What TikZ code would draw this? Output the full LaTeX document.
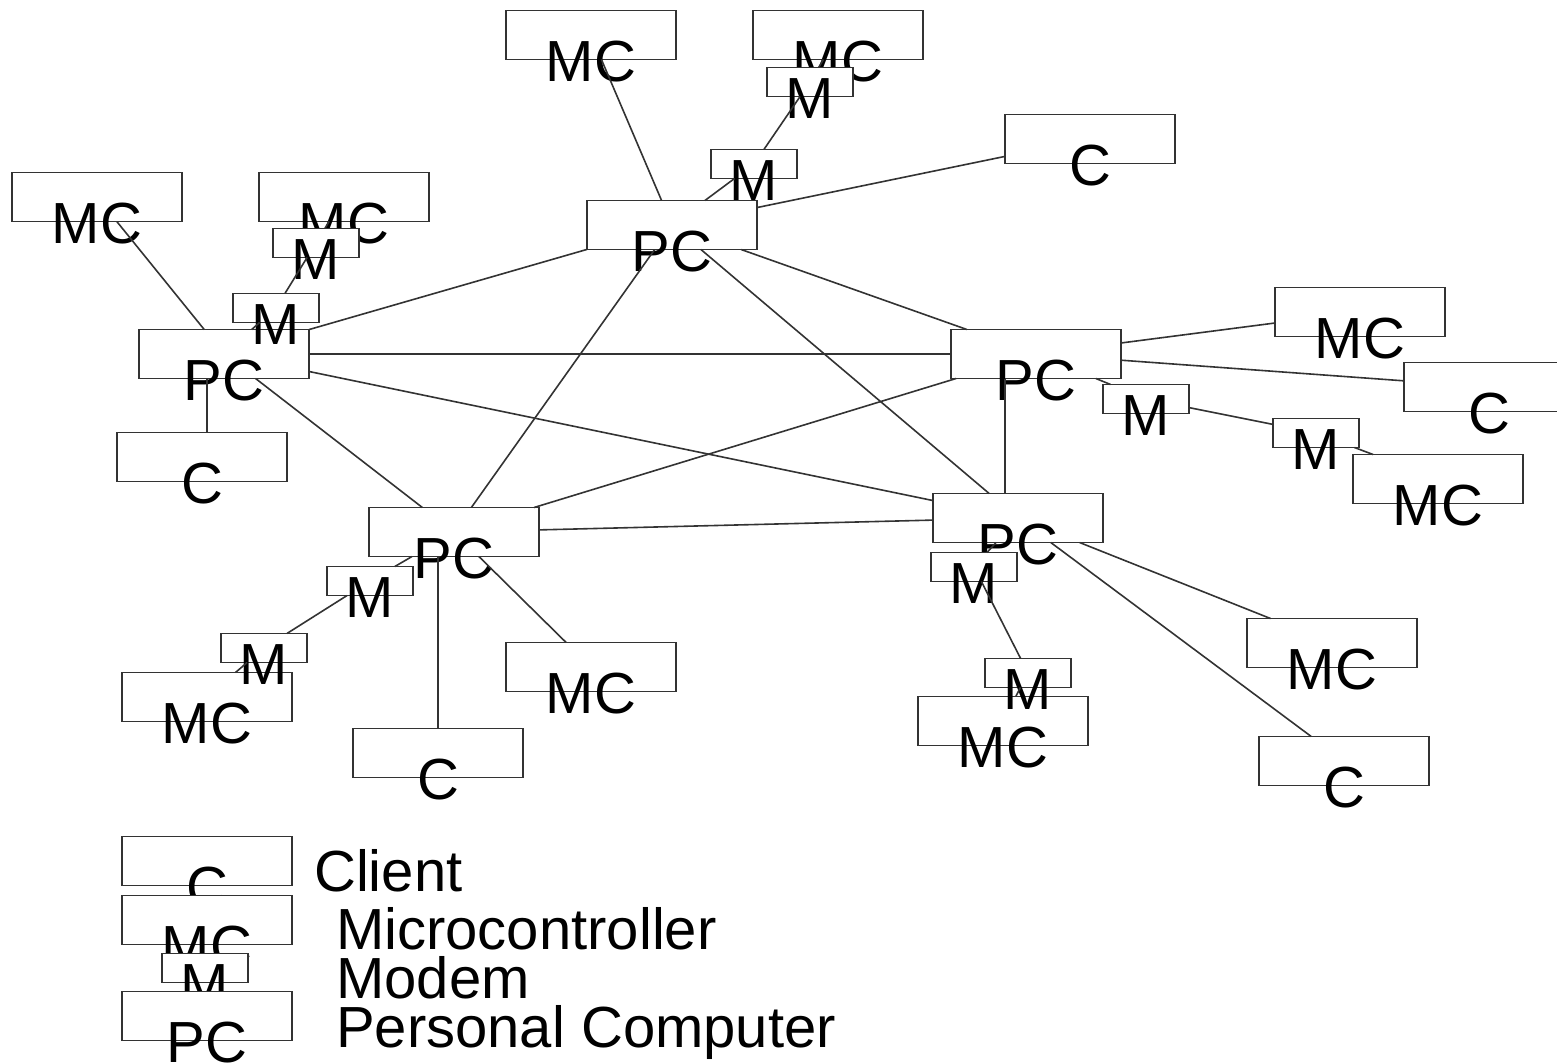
\documentclass[tikz,border=0pt]{standalone}
\usepackage{fontspec}
\setmainfont{Liberation Sans}
\usepackage{tikz}
\newcommand{\bigboxwidth}{170pt}
\newcommand{\bigboxheight}{49pt}
\newcommand{\modemwidth}{86pt}
\newcommand{\modemheight}{29pt}
\newcommand{\devfont}{\fontsize{58}{62}\selectfont}
\tikzstyle{device}=[draw=black!80, fill=white, line width=1.8pt, inner sep=0, outer sep=0]
\tikzstyle{bigdevice}=[device, minimum width=\bigboxwidth, minimum height=\bigboxheight]
\tikzstyle{modem}=[device, minimum width=\modemwidth, minimum height=\modemheight]
\tikzstyle{devlabel}=[anchor=center, inner sep=0, yshift=-2pt, font=\devfont]
\tikzstyle{legendtext}=[anchor=base west, inner sep=0, font=\devfont]
\tikzstyle{link}=[draw=black!80, line width=1.6pt]

\begin{document}
\begin{tikzpicture}[x=1pt, y=-1pt]
        \useasboundingbox (0,0) rectangle (1557,1063);
        % top
        \node[bigdevice, label={[devlabel]south:MC}] (MCa) at (591,35) {};
        \node[bigdevice, label={[devlabel]south:MC}] (MCb) at (838,35) {};
        \node[modem, label={[devlabel]south:M}] (Mb1) at (810,82) {};
        \node[bigdevice, label={[devlabel]south:PC}] (PCtop) at (672,225) {};
        \node[modem, label={[devlabel]south:M}] (Mb2) at (754,164) {};
        \node[bigdevice, label={[devlabel]south:C}] (Ca) at (1090,139) {};
        % left
        \node[bigdevice, label={[devlabel]south:MC}] (MCc) at (97,197) {};
        \node[bigdevice, label={[devlabel]south:MC}] (MCd) at (344,197) {};
        \node[modem, label={[devlabel]south:M}] (Md1) at (316,243) {};
        \node[bigdevice, label={[devlabel]south:PC}] (PCleft) at (224,354) {};
        \node[modem, label={[devlabel]south:M}] (Md2) at (276,308) {};
        \node[bigdevice, label={[devlabel]south:C}] (Cb) at (202,457) {};
        % right
        \node[bigdevice, label={[devlabel]south:PC}] (PCright) at (1036,354) {};
        \node[bigdevice, label={[devlabel]south:MC}] (MCe) at (1360,312) {};
        \node[bigdevice, label={[devlabel]south:C}] (Cc) at (1489,387) {};
        \node[modem, label={[devlabel]south:M}] (Me1) at (1146,399) {};
        \node[modem, label={[devlabel]south:M}] (Me2) at (1316,433) {};
        \node[bigdevice, label={[devlabel]south:MC}] (MCf) at (1438,479) {};
        % bottom right
        \node[bigdevice, label={[devlabel]south:PC}] (PCbr) at (1018,518) {};
        \node[modem, label={[devlabel]south:M}] (Mf1) at (974,567) {};
        \node[bigdevice, label={[devlabel]south:MC}] (MCg) at (1003,721) {};
        \node[modem, label={[devlabel]south:M}] (Mf2) at (1028,673) {};
        \node[bigdevice, label={[devlabel]south:MC}] (MCh) at (1332,643) {};
        \node[bigdevice, label={[devlabel]south:C}] (Cd) at (1344,761) {};
        % bottom left
        \node[bigdevice, label={[devlabel]south:PC}] (PCbl) at (454,532) {};
        \node[modem, label={[devlabel]south:M}] (Mg1) at (370,581) {};
        \node[bigdevice, label={[devlabel]south:MC}] (MCi) at (207,697) {};
        \node[modem, label={[devlabel]south:M}] (Mg2) at (264,648) {};
        \node[bigdevice, label={[devlabel]south:MC}] (MCj) at (591,667) {};
        \node[bigdevice, label={[devlabel]south:C}] (Ce) at (438,753) {};
        % links
        \draw[link] (PCtop) -- (MCa);
        \draw[link] (PCtop) -- (Mb2);
        \draw[link] (Mb2) -- (Mb1);
        \draw[link] (Mb1) -- (MCb);
        \draw[link] (PCtop) -- (Ca);
        \draw[link] (PCtop) -- (PCleft);
        \draw[link] (PCtop) -- (PCright);
        \draw[link] (PCtop) -- (PCbl);
        \draw[link] (PCtop) -- (PCbr);
        \draw[link] (PCleft) -- (MCc);
        \draw[link] (PCleft) -- (Md2);
        \draw[link] (Md2) -- (Md1);
        \draw[link] (Md1) -- (MCd);
        \draw[link] ([xshift=5pt]Cb.north) -- ([xshift=5pt]Cb.north |- PCleft.south);
        \draw[link] (PCleft) -- (PCright);
        \draw[link] (PCleft) -- (PCbr);
        \draw[link] (PCleft) -- (PCbl);
        \draw[link] (PCright) -- (MCe);
        \draw[link] (PCright) -- (Cc);
        \draw[link] (PCright) -- (Me1);
        \draw[link] (Me1) -- (Me2);
        \draw[link] (Me2) -- (MCf);
        \draw[link] ([xshift=-13pt]PCbr.north) -- ([xshift=-13pt]PCbr.north |- PCright.south);
        \draw[link] (PCright) -- (PCbl);
        \draw[link] (PCbr) -- (PCbl);
        \draw[link] (PCbr) -- (Mf1);
        \draw[link] (Mf1) -- (Mf2);
        \draw[link] (Mf2) -- (MCg);
        \draw[link] (PCbr) -- (MCh);
        \draw[link] (PCbr) -- (Cd);
        \draw[link] (PCbl) -- (Mg1);
        \draw[link] (Mg1) -- (Mg2);
        \draw[link] (Mg2) -- (MCi);
        \draw[link] (Ce.north) -- (Ce.north |- PCbl.south);
        \draw[link] (PCbl) -- (MCj);
        % legend
        \node[bigdevice, label={[devlabel]south:C}] (Cl) at (207,861) {};
        \node[bigdevice, label={[devlabel]south:MC}] (MCl) at (207,920) {};
        \node[modem, label={[devlabel]south:M}] (Ml) at (205,968) {};
        \node[bigdevice, label={[devlabel]south:PC}] (PCl) at (207,1016) {};
        \node[legendtext] (lgC) at (314,891) {Client};
        \node[legendtext] (lgMC) at (336,949) {Microcontroller};
        \node[legendtext] (lgM) at (336,998) {Modem};
        \node[legendtext] (lgPC) at (336,1047) {Personal Computer};
    \end{tikzpicture}
\end{document}
